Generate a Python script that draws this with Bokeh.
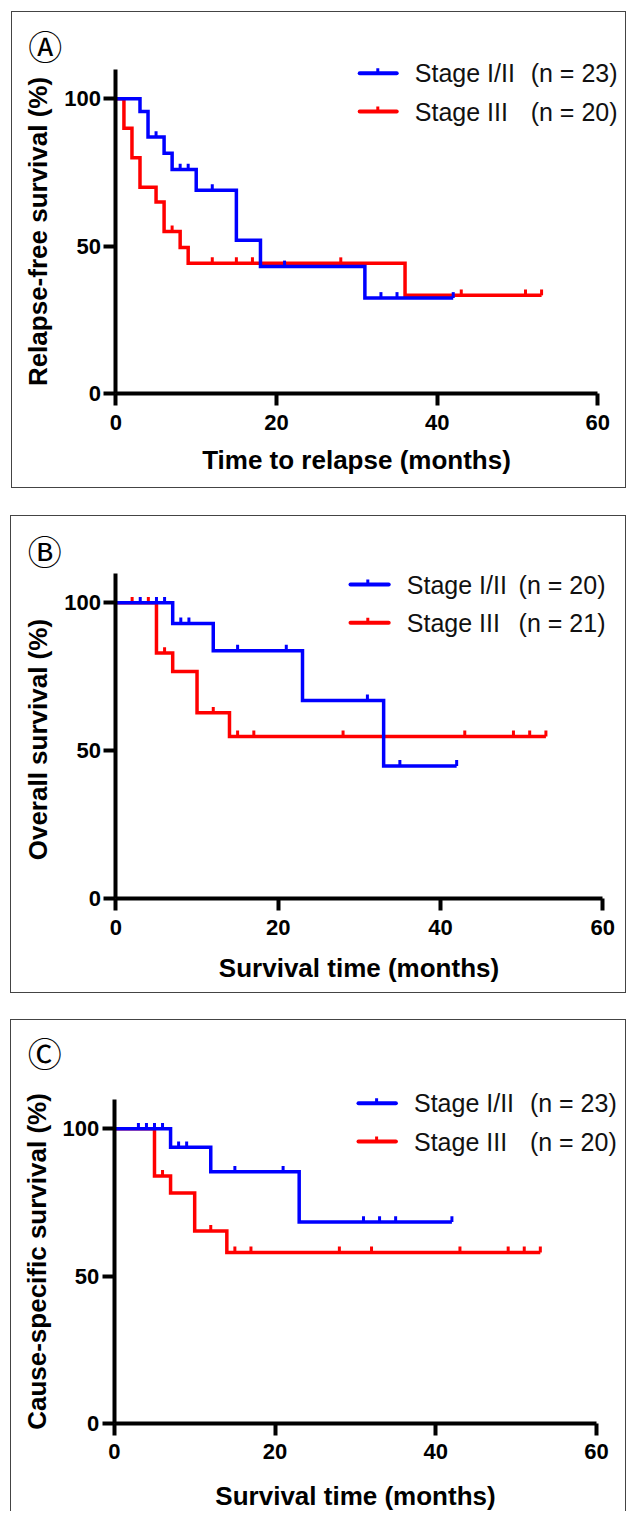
import numpy as np
from bokeh.plotting import figure
from bokeh.models import Range1d, FixedTicker, Label, LinearAxis
from bokeh.layouts import column
from bokeh.embed import file_html
from bokeh.resources import INLINE

# ---------------- data ----------------
x_ticks = [0, 20, 40, 60]
y_ticks = [0, 50, 100]

# Panel A: relapse-free survival
a_xlabel = "Time to relapse (months)"
a_ylabel = "Relapse-free survival (%)"
a_blue_label, a_blue_n = "Stage I/II", "(n = 23)"
a_red_label, a_red_n = "Stage III", "(n = 20)"
a_blue_times = [0, 3, 4, 6, 7, 10, 15, 18, 31, 42]
a_blue_surv = [100, 95.7, 87.0, 81.5, 76.0, 69.0, 52.0, 43.1, 32.4, 32.4]
a_blue_cens = [5, 8, 9, 12, 21, 33, 35, 42]
a_red_times = [0, 1, 2, 3, 5, 6, 8, 9, 36, 53]
a_red_surv = [100, 90.0, 80.0, 70.0, 65.0, 55.0, 49.5, 44.2, 33.3, 33.3]
a_red_cens = [7, 12, 15, 17, 28, 43, 51, 53]

# Panel B: overall survival
b_xlabel = "Survival time (months)"
b_ylabel = "Overall survival  (%)"
b_blue_label, b_blue_n = "Stage I/II", "(n = 20)"
b_red_label, b_red_n = "Stage III", "(n = 21)"
b_blue_times = [0, 7, 12, 23, 33, 42]
b_blue_surv = [100, 93.0, 83.8, 67.0, 44.8, 44.8]
b_blue_cens = [3, 5, 6, 8, 9, 15, 21, 31, 35, 42]
b_red_times = [0, 5, 7, 10, 14, 53]
b_red_surv = [100, 83.0, 76.8, 62.8, 54.8, 54.8]
b_red_cens = [2, 4, 6, 12, 15, 17, 28, 43, 49, 51, 53]

# Panel C: cause-specific survival
c_xlabel = "Survival time (months)"
c_ylabel = "Cause-specific survival (%)"
c_blue_label, c_blue_n = "Stage I/II", "(n = 23)"
c_red_label, c_red_n = "Stage III", "(n = 20)"
c_blue_times = [0, 7, 12, 23, 42]
c_blue_surv = [100, 93.7, 85.4, 68.3, 68.3]
c_blue_cens = [3, 4, 5, 6, 8, 9, 15, 21, 31, 33, 35, 42]
c_red_times = [0, 5, 7, 10, 14, 53]
c_red_surv = [100, 84.0, 78.2, 65.3, 58.0, 58.0]
c_red_cens = [6, 12, 15, 17, 28, 32, 43, 49, 51, 53]

BLUE = "#0000FF"
RED = "#FF0000"
FONT = "Liberation Sans"


def surv_at(times, surv, t):
    t_arr = np.asarray(times, dtype=float)
    s_arr = np.asarray(surv, dtype=float)
    idx = np.searchsorted(t_arr, np.asarray(t, dtype=float), side="right") - 1
    return s_arr[idx]


def make_panel(W, H, origin, axis_px, margin, xlabel, ylabel, curves, letter, letter_px,
               leg, border_css, xlab_standoff):
    ox, oy = origin                      # page position of the canvas' top-left
    x0p, x60p, y0p, y100p = axis_px      # page pixels of x=0, x=60, y=0, y=100
    x0p -= ox; x60p -= ox; y0p -= oy; y100p -= oy
    sx = (x60p - x0p) / 60.0
    sy = (y0p - y100p) / 100.0
    fx = lambda px: (px - ox - x0p) / sx
    fy = lambda py: (y0p - (py - oy)) / sy

    p = figure(width=W, height=H,
               x_range=Range1d(-x0p / sx, (W - x0p) / sx),
               y_range=Range1d(-(H - y0p) / sy, y0p / sy),
               x_axis_location=None, y_axis_location=None,
               output_backend="svg", toolbar_location=None,
               min_border_left=0, min_border_right=0,
               min_border_top=0, min_border_bottom=0,
               margin=margin, styles=border_css)
    p.outline_line_color = None
    p.grid.visible = False
    p.background_fill_color = "white"
    p.border_fill_color = "white"

    xax = LinearAxis(fixed_location=0, bounds=(0, 60), ticker=FixedTicker(ticks=x_ticks),
                     axis_label=xlabel)
    yax = LinearAxis(fixed_location=0, bounds=(0, 110), ticker=FixedTicker(ticks=y_ticks),
                     axis_label=ylabel)
    for ax in (xax, yax):
        ax.axis_line_width = 4
        ax.axis_line_color = "black"
        ax.major_tick_line_width = 4
        ax.major_tick_line_color = "black"
        ax.major_tick_out = 12
        ax.major_tick_in = 0
        ax.minor_tick_line_color = None
        ax.major_label_text_font = FONT
        ax.major_label_text_font_size = "22px"
        ax.major_label_text_font_style = "bold"
        ax.major_label_text_color = "black"
        ax.axis_label_text_font = FONT
        ax.axis_label_text_font_size = "26px"
        ax.axis_label_text_font_style = "bold"
        ax.axis_label_text_color = "black"
    xax.major_label_standoff = 9
    yax.major_label_standoff = 3
    xax.axis_label_standoff = xlab_standoff
    yax.axis_label_standoff = 8
    p.add_layout(xax, "below")
    p.add_layout(yax, "left")

    # curves: red first, then blue on top
    for times, surv, cens, color in curves:
        p.step(times, surv, mode="after", line_width=3.5, color=color, line_join="miter")
        cy = surv_at(times, surv, cens)
        p.segment(x0=cens, y0=cy, x1=cens, y1=cy + 2.0, line_width=3, color=color)

    # circled panel letter
    p.add_layout(Label(x=fx(letter_px[0]), y=fy(letter_px[1]), text=letter,
                       text_font="Noto Sans CJK JP", text_font_size="34px",
                       text_align="center", text_baseline="middle", text_color="black"))

    # legend (page pixel positions converted to data units)
    (lx0, lx1, ltick, ytop, ybot, tx1, tx2, rows) = leg
    for (lab, nlab, color), yy in zip(rows, (ytop, ybot)):
        yd = fy(yy)
        p.line([fx(lx0), fx(lx1)], [yd, yd], line_width=4, color=color, line_cap="round")
        p.segment(x0=[fx(ltick)], y0=[yd], x1=[fx(ltick)], y1=[yd + 1.7],
                  line_width=3, color=color)
        p.add_layout(Label(x=fx(tx1), y=yd, text=lab, text_font=FONT, text_font_size="25px",
                           text_align="left", text_baseline="middle", text_color="#111111"))
        p.add_layout(Label(x=fx(tx2), y=yd, text=nlab, text_font=FONT, text_font_size="25px",
                           text_align="left", text_baseline="middle", text_color="#111111"))
    return p


box = {"border": "1px solid #444"}
box_c = {"border-top": "1px solid #444", "border-left": "1px solid #444",
         "border-right": "1px solid #444"}

pA = make_panel(615, 477, (12, 12), (115.4, 597.3, 393.0, 98.3), (11, 0, 0, 11),
                a_xlabel, a_ylabel,
                [(a_red_times, a_red_surv, a_red_cens, RED),
                 (a_blue_times, a_blue_surv, a_blue_cens, BLUE)],
                "Ⓐ", (44.8, 44.7),
                (359.2, 396.2, 377.3, 72.7, 111.0, 414.3, 530.2,
                 [(a_blue_label, a_blue_n, BLUE), (a_red_label, a_red_n, RED)]),
                box, 12)

pB = make_panel(616, 478, (11, 518), (115.4, 602.2, 900.0, 604.3), (27, 0, 0, 10),
                b_xlabel, b_ylabel,
                [(b_red_times, b_red_surv, b_red_cens, RED),
                 (b_blue_times, b_blue_surv, b_blue_cens, BLUE)],
                "Ⓑ", (44.3, 552.0),
                (350.0, 388.2, 367.3, 586.0, 624.3, 406.3, 518.1,
                 [(b_blue_label, b_blue_n, BLUE), (b_red_label, b_red_n, RED)]),
                box, 15)

pC = make_panel(616, 492, (11, 1024), (113.8, 596.1, 1426.7, 1132.3), (26, 0, 0, 10),
                c_xlabel, c_ylabel,
                [(c_red_times, c_red_surv, c_red_cens, RED),
                 (c_blue_times, c_blue_surv, c_blue_cens, BLUE)],
                "Ⓒ", (44.3, 1055.8),
                (358.0, 395.4, 376.1, 1106.7, 1145.0, 413.5, 529.4,
                 [(c_blue_label, c_blue_n, BLUE), (c_red_label, c_red_n, RED)]),
                box_c, 18)

layout = column(pA, pB, pC)
open("out.html", "w").write(file_html(layout, INLINE))
